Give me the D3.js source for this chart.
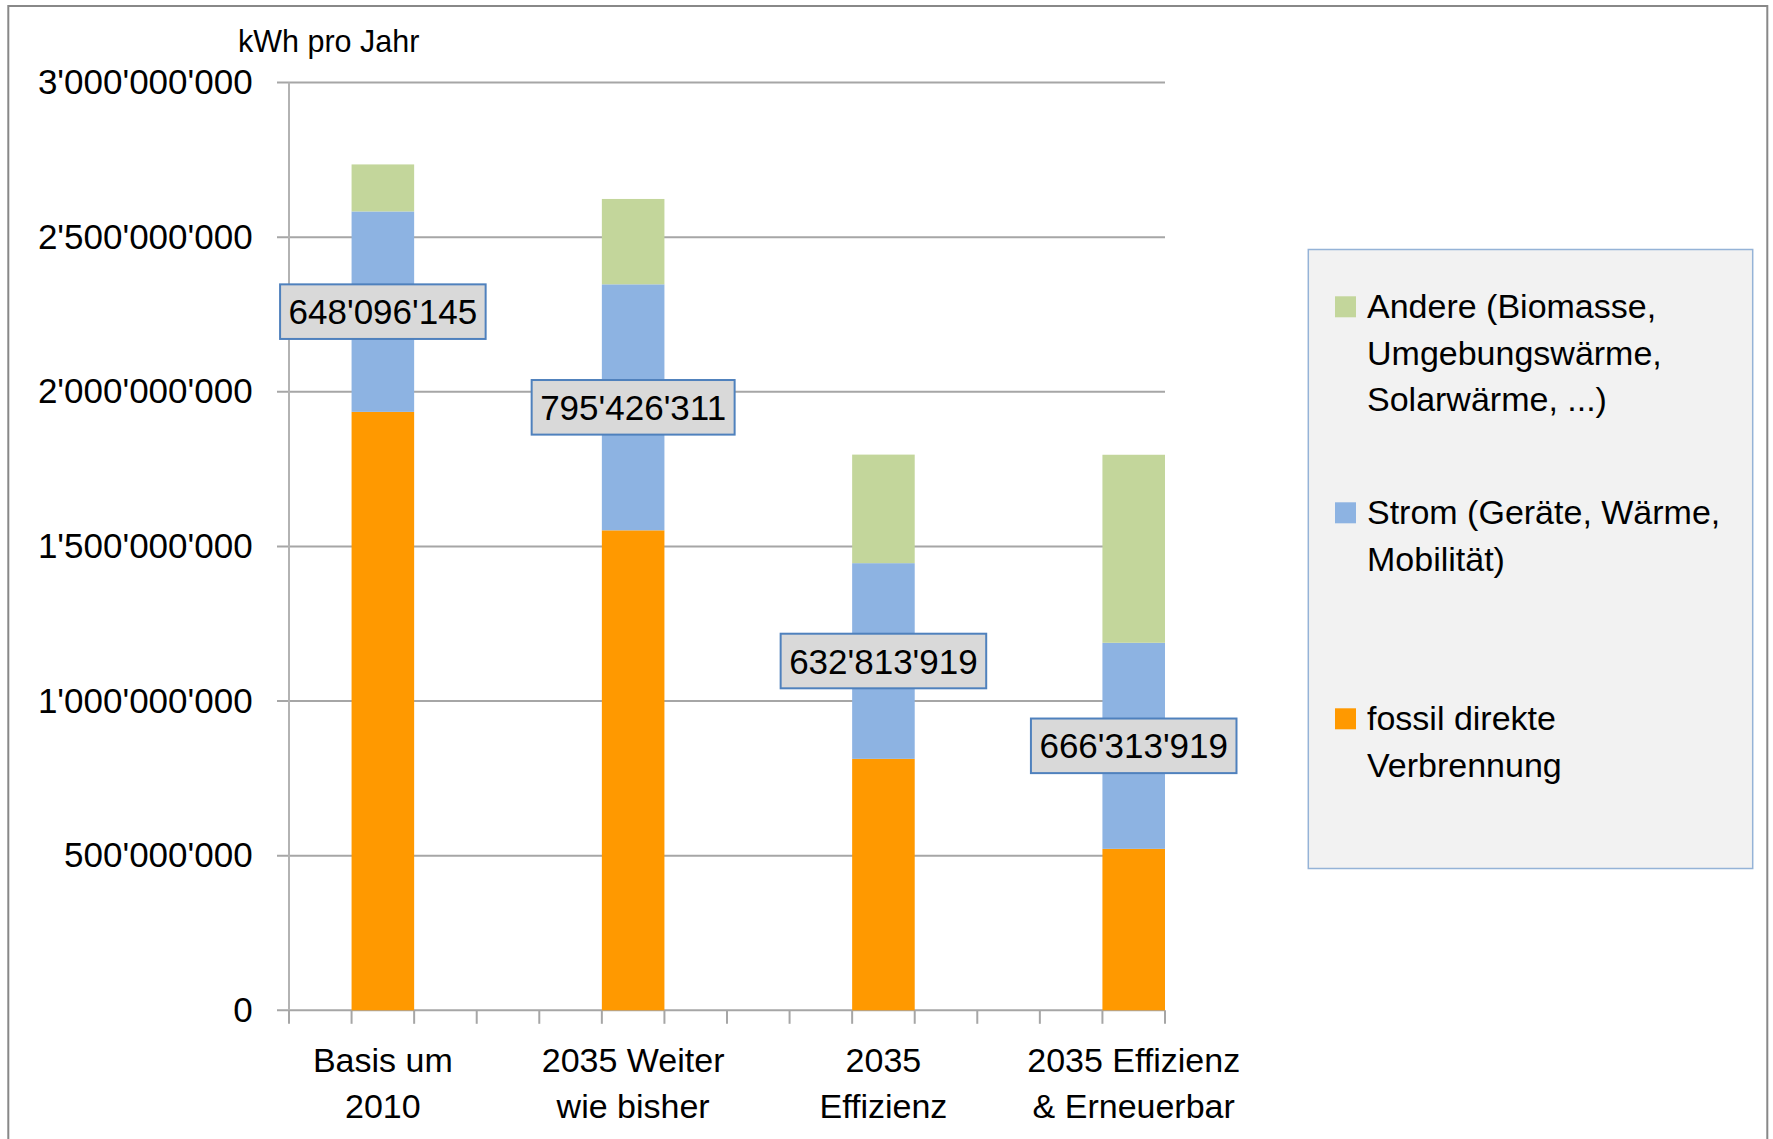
<!DOCTYPE html>
<html>
<head>
<meta charset="utf-8">
<script src="https://cdn.jsdelivr.net/npm/d3@7"></script>
<style>
  body { margin: 0; background: #fff; }
  text { font-family: "Liberation Sans", Arial, sans-serif; fill: #000; }
</style>
</head>
<body>
<svg id="chart" width="1773" height="1139"></svg>
<script>
// category slots as in the sheet: empty slots between the scenarios
var categories = ["", "Basis um 2010", "", "", "", "2035 Weiter wie bisher", "", "", "",
                  "2035 Effizienz", "", "", "", "2035 Effizienz & Erneuerbar"];
var scenarios = ["Basis um 2010", "2035 Weiter wie bisher", "2035 Effizienz", "2035 Effizienz & Erneuerbar"];
var scenarioLines = [["Basis um", "2010"], ["2035 Weiter", "wie bisher"], ["2035", "Effizienz"], ["2035 Effizienz", "& Erneuerbar"]];

var fossil = [1935000000, 1552000000, 813000000, 522000000];
var strom  = [648096145, 795426311, 632813919, 666313919];
var andere = [152000000, 276000000, 351000000, 608000000];

var yTicks = [0, 500000000, 1000000000, 1500000000, 2000000000, 2500000000, 3000000000];

var seriesNames = ["fossil direkte Verbrennung", "Strom (Geräte, Wärme, Mobilität)", "Andere (Biomasse, Umgebungswärme, Solarwärme, ...)"];
var legendLines = [["Andere (Biomasse,", "Umgebungswärme,", "Solarwärme, ...)"],
                   ["Strom (Geräte, Wärme,", "Mobilität)"],
                   ["fossil direkte", "Verbrennung"]];
var colors = ["#ff9900", "#8db3e2", "#c3d69b"];

var svg = d3.select("#chart");
var margin = {top: 82.5, left: 289, right: 1165, bottom: 1010.3};

var locale = d3.formatLocale({decimal: ".", thousands: "'", grouping: [3], currency: ["", ""]});
var fmt = locale.format(",");

// outer frame (bottom edge runs off the picture)
svg.append("path")
  .attr("d", "M8.3,1139 V6 H1767.3 V1139")
  .attr("fill", "none")
  .attr("stroke", "#888")
  .attr("stroke-width", 2);

var x = d3.scaleBand()
  .domain(d3.range(categories.length))
  .range([margin.left, margin.right])
  .padding(0);

var y = d3.scaleLinear()
  .domain([0, 3000000000])
  .range([margin.bottom, margin.top]);

// gridlines + y axis
var yAxis = svg.append("g")
  .attr("transform", "translate(" + margin.left + ",0)")
  .call(d3.axisLeft(y).tickValues(yTicks).tickSize(12).tickPadding(24.4).tickFormat(fmt));
yAxis.select(".domain").remove();
yAxis.selectAll(".tick line").remove();
yAxis.selectAll(".tick text").style("font-size", "35px");

svg.append("g").selectAll("line")
  .data(yTicks)
  .enter().append("line")
  .attr("x1", margin.left - 12)
  .attr("x2", margin.right)
  .attr("y1", function(d) { return y(d); })
  .attr("y2", function(d) { return y(d); })
  .attr("stroke", "#a6a6a6")
  .attr("stroke-width", 2);

svg.append("line")
  .attr("x1", margin.left).attr("x2", margin.left)
  .attr("y1", margin.top).attr("y2", margin.bottom)
  .attr("stroke", "#b3b3b3").attr("stroke-width", 2);

// category tick marks at slot boundaries
var bounds = d3.range(categories.length + 1).map(function(i) {
  return i < categories.length ? x(i) : x(i - 1) + x.bandwidth();
});
svg.append("g").selectAll("line")
  .data(bounds)
  .enter().append("line")
  .attr("x1", function(d) { return d; })
  .attr("x2", function(d) { return d; })
  .attr("y1", margin.bottom)
  .attr("y2", margin.bottom + 13.5)
  .attr("stroke", "#a6a6a6")
  .attr("stroke-width", 2);

// stacked bars
var rows = scenarios.map(function(s, i) {
  return {name: s, slot: categories.indexOf(s), fossil: fossil[i], strom: strom[i], andere: andere[i]};
});
var stack = d3.stack().keys(["fossil", "strom", "andere"]);
var layers = stack(rows);

svg.append("g").selectAll("g")
  .data(layers)
  .enter().append("g")
  .attr("fill", function(d, i) { return colors[i]; })
  .selectAll("rect")
  .data(function(d) { return d; })
  .enter().append("rect")
  .attr("x", function(d) { return x(d.data.slot); })
  .attr("width", x.bandwidth())
  .attr("y", function(d) { return y(d[1]); })
  .attr("height", function(d) { return y(d[0]) - y(d[1]); });

// x labels
var xl = svg.append("g").selectAll("text")
  .data(rows)
  .enter().append("text")
  .attr("text-anchor", "middle")
  .style("font-size", "34px");
xl.each(function(d, i) {
  var t = d3.select(this);
  scenarioLines[i].forEach(function(line, j) {
    t.append("tspan")
      .attr("x", x(d.slot) + x.bandwidth() / 2)
      .attr("y", 1071.7 + j * 46.3)
      .text(line);
  });
});

// data labels on the Strom segment
var labels = svg.append("g").selectAll("g")
  .data(layers[1])
  .enter().append("g")
  .attr("transform", function(d) {
    return "translate(" + (x(d.data.slot) + x.bandwidth() / 2) + "," + y((d[0] + d[1]) / 2) + ")";
  });
var boxes = labels.append("rect")
  .attr("fill", "#d9d9d9")
  .attr("stroke", "#4f81bd")
  .attr("stroke-width", 2);
var ltext = labels.append("text")
  .attr("text-anchor", "middle")
  .attr("dy", "0.36em")
  .style("font-size", "35px")
  .text(function(d) { return fmt(d.data.strom); });
ltext.each(function(d, i) {
  var w = this.getComputedTextLength() + 17;
  d3.select(boxes.nodes()[i])
    .attr("x", -w / 2).attr("y", -27.3)
    .attr("width", w).attr("height", 54.6);
});

// unit title
svg.append("text")
  .attr("x", 238)
  .attr("y", 52.3)
  .style("font-size", "30.5px")
  .text("kWh pro Jahr");

// legend
var legend = svg.append("g");
legend.append("rect")
  .attr("x", 1308.3).attr("y", 249.5)
  .attr("width", 444.4).attr("height", 619)
  .attr("fill", "#f2f2f2")
  .attr("stroke", "#95b3d7")
  .attr("stroke-width", 1.5);

var legendColors = colors.slice().reverse();
var items = legend.selectAll("g.item")
  .data(legendLines)
  .enter().append("g")
  .attr("class", "item")
  .attr("transform", function(d, i) { return "translate(0," + (318.3 + i * 206) + ")"; });
items.append("rect")
  .attr("x", 1335).attr("y", -22)
  .attr("width", 21).attr("height", 21)
  .attr("fill", function(d, i) { return legendColors[i]; });
items.append("text")
  .style("font-size", "34px")
  .each(function(d) {
    var t = d3.select(this);
    d.forEach(function(line, j) {
      t.append("tspan").attr("x", 1367).attr("y", j * 46.5).text(line);
    });
  });
</script>
</body>
</html>
